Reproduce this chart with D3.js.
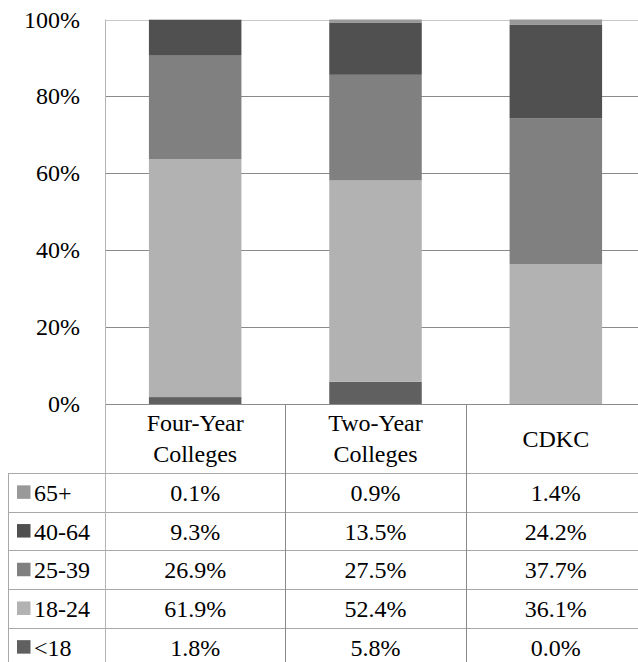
<!DOCTYPE html>
<html><head><meta charset="utf-8">
<script src="https://cdn.jsdelivr.net/npm/d3@7"></script>
</head>
<body style="margin:0">
<svg id="c" width="638" height="662"></svg>
<script>
const categories = ["Four-Year Colleges", "Two-Year Colleges", "CDKC"];
const categoryLines = [["Four-Year", "Colleges"], ["Two-Year", "Colleges"], ["CDKC"]];
// series listed top-to-bottom as in the data table
const seriesNames = ["65+", "40-64", "25-39", "18-24", "<18"];
const v65plus = [0.1, 0.9, 1.4];
const v40to64 = [9.3, 13.5, 24.2];
const v25to39 = [26.9, 27.5, 37.7];
const v18to24 = [61.9, 52.4, 36.1];
const vUnder18 = [1.8, 5.8, 0.0];
const seriesValues = [v65plus, v40to64, v25to39, v18to24, vUnder18];
const seriesColors = ["#999999", "#505050", "#808080", "#b2b2b2", "#606060"];
const yTicks = [0, 0.2, 0.4, 0.6, 0.8, 1.0];

const FONT = "Liberation Serif";
const svg = d3.select("#c").style("display", "block");
const plotLeft = 105, plotRight = 646, plotTop = 19.5, plotBottom = 404;
const x = d3.scaleBand().domain(categories).range([plotLeft, plotRight]).paddingInner(0.487).paddingOuter(0.2435);
const y = d3.scaleLinear().domain([0, 1]).range([plotBottom, plotTop]);

// gridlines
svg.append("g").selectAll("line").data(yTicks.filter(t => t > 0)).join("line")
  .attr("x1", plotLeft).attr("x2", 638)
  .attr("y1", d => Math.round(y(d)) + 0.5).attr("y2", d => Math.round(y(d)) + 0.5)
  .attr("stroke", d => d === 1 ? "#c8c8c8" : "#8a8a8a").attr("stroke-width", 1);

// stacked data (100% stacked: normalized)
const rows = categories.map((c, i) => {
  const o = {cat: c};
  seriesNames.forEach((s, j) => o[s] = seriesValues[j][i]);
  return o;
});
const stackKeys = seriesNames.slice().reverse(); // bottom first
const stack = d3.stack().keys(stackKeys).offset(d3.stackOffsetExpand);
const layers = stack(rows);
svg.append("g").selectAll("g").data(layers).join("g")
  .attr("fill", d => seriesColors[seriesNames.indexOf(d.key)])
  .selectAll("rect").data(d => d).join("rect")
  .attr("x", d => x(d.data.cat))
  .attr("width", x.bandwidth())
  .attr("y", d => y(d[1]))
  .attr("height", d => Math.max(0, y(d[0]) - y(d[1])));

function txt(sel) {
  sel.attr("font-family", FONT).style("font-family", "'Liberation Serif', serif", "important")
    .attr("font-size", 24).attr("fill", "#000");
}

// y-axis labels
svg.selectAll("text.ytick").data(yTicks).join("text").attr("class", "ytick")
  .call(txt)
  .attr("x", 80).attr("y", d => y(d) + 8)
  .attr("text-anchor", "end")
  .text(d => d3.format(".0%")(d));

// table lines
const rowH = 38.7;
const headerBottom = 473;
const tableLeft = 8.5;
const step = x.step();
const colEdges = [plotLeft, plotLeft + step, plotLeft + 2 * step, plotRight];
svg.append("line").attr("x1", plotLeft).attr("x2", 638).attr("y1", plotBottom + 0.5).attr("y2", plotBottom + 0.5)
  .attr("stroke", "#8a8a8a");
const rowLinesY = d3.range(seriesNames.length).map(i => headerBottom + i * rowH);
svg.selectAll("line.h").data(rowLinesY).join("line").attr("class", "h")
  .attr("x1", tableLeft).attr("x2", 638)
  .attr("y1", d => Math.round(d) + 0.5).attr("y2", d => Math.round(d) + 0.5)
  .attr("stroke", "#a8a8a8");
svg.append("line").attr("x1", plotLeft + 0.5).attr("x2", plotLeft + 0.5).attr("y1", plotTop).attr("y2", 662)
  .attr("stroke", "#b4b4b4");
svg.selectAll("line.v").data(colEdges.slice(1, 3)).join("line").attr("class", "v")
  .attr("x1", d => Math.round(d) + 0.5).attr("x2", d => Math.round(d) + 0.5)
  .attr("y1", plotBottom).attr("y2", 662).attr("stroke", "#8a8a8a");
svg.append("line").attr("x1", tableLeft).attr("x2", tableLeft).attr("y1", headerBottom).attr("y2", 662)
  .attr("stroke", "#a8a8a8");

// header labels
categories.forEach((c, i) => {
  const cx = x(c) + x.bandwidth() / 2;
  const lines = categoryLines[i];
  const baselines = lines.length === 2 ? [431, 461.5] : [447];
  lines.forEach((t, k) => {
    svg.append("text").call(txt).attr("x", cx).attr("y", baselines[k]).attr("text-anchor", "middle").text(t);
  });
});

// legend + values rows
seriesNames.forEach((s, j) => {
  const cy = headerBottom + j * rowH + rowH / 2;
  svg.append("rect").attr("x", 17).attr("y", cy - 7).attr("width", 13.5).attr("height", 13.5)
    .attr("fill", seriesColors[j]);
  svg.append("text").call(txt).attr("x", 34).attr("y", cy + 8.7).text(s);
  categories.forEach((c, i) => {
    svg.append("text").call(txt).attr("x", x(c) + x.bandwidth() / 2).attr("y", cy + 8.7)
      .attr("text-anchor", "middle")
      .text(seriesValues[j][i].toFixed(1) + "%");
  });
});
</script>
</body></html>
